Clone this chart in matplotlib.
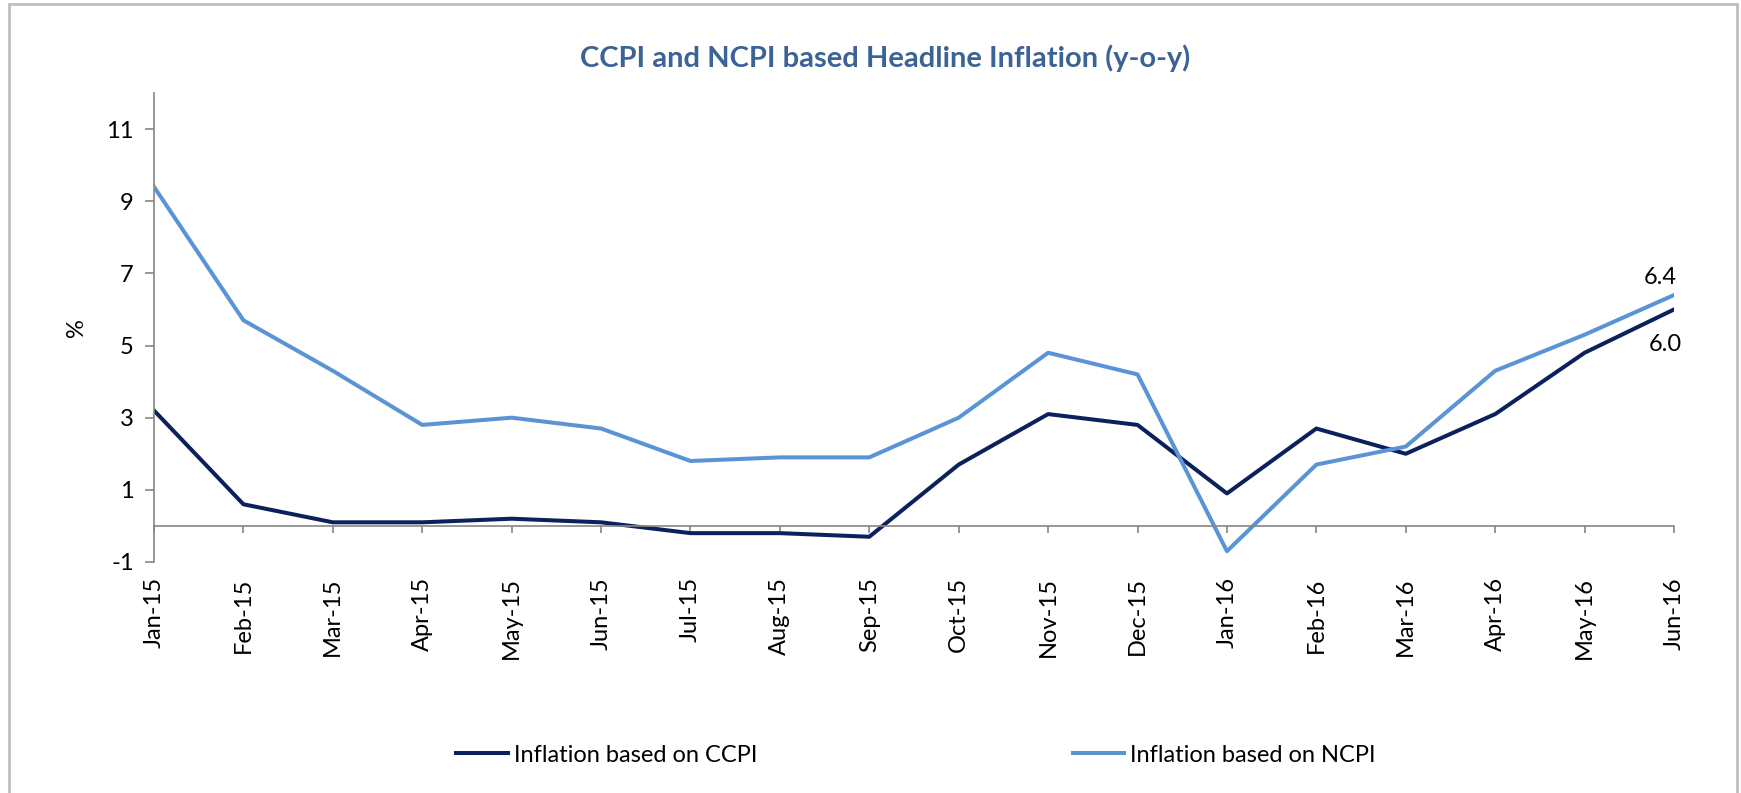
import matplotlib
matplotlib.use("Agg")
import matplotlib.pyplot as plt
from matplotlib.patches import Rectangle

months = ["Jan-15", "Feb-15", "Mar-15", "Apr-15", "May-15", "Jun-15", "Jul-15", "Aug-15",
          "Sep-15", "Oct-15", "Nov-15", "Dec-15", "Jan-16", "Feb-16", "Mar-16", "Apr-16",
          "May-16", "Jun-16"]
ccpi = [3.2, 0.6, 0.1, 0.1, 0.2, 0.1, -0.2, -0.2, -0.3, 1.7, 3.1, 2.8, 0.9, 2.7, 2.0, 3.1, 4.8, 6.0]
ncpi = [9.4, 5.7, 4.3, 2.8, 3.0, 2.7, 1.8, 1.9, 1.9, 3.0, 4.8, 4.2, -0.7, 1.7, 2.2, 4.3, 5.3, 6.4]
yticks = [-1, 1, 3, 5, 7, 9, 11]

plt.rcParams['font.family'] = ['Lato', 'DejaVu Sans']

W, H = 1741, 793
fig = plt.figure(figsize=(W / 100, H / 100), dpi=100)
ax = fig.add_axes([154 / W, 1 - 562 / H, (1674 - 154) / W, (562 - 93) / H])

gray = "#868686"
for s in ["top", "right"]:
    ax.spines[s].set_visible(False)
ax.spines["bottom"].set_position(("data", 0))
ax.spines["left"].set_color(gray)
ax.spines["left"].set_linewidth(1.2)
ax.spines["bottom"].set_color(gray)
ax.spines["bottom"].set_linewidth(1.2)

x = list(range(len(months)))
c_dark = "#0A215C"
c_light = "#5B93D7"
l1, = ax.plot(x, ccpi, color=c_dark, lw=2.9, solid_joinstyle='round', label="Inflation based on CCPI")
l2, = ax.plot(x, ncpi, color=c_light, lw=2.9, solid_joinstyle='round', label="Inflation based on NCPI")

ax.set_xlim(0, len(months) - 1)
ax.set_ylim(-1, 12)
ax.set_yticks(yticks)
ax.set_yticklabels([str(v) for v in yticks], fontsize=17)
ax.set_xticks(x)
ax.set_xticklabels(months, rotation=90, fontsize=17, ha="center", va="top")

ax.tick_params(axis="y", length=6.5, width=1.2, color=gray, pad=8)
ax.tick_params(axis="x", length=5, width=1.2, color=gray, pad=32, direction="out")

ax.set_ylabel("%", fontsize=17)
ax.yaxis.set_label_coords((87 - 154) / 1520, 0.5)

ax.annotate(f"{ncpi[-1]:.1f}", (x[-1], ncpi[-1]), xytext=(2, 5), textcoords="offset points",
            ha="right", va="bottom", fontsize=17)
ax.annotate(f"{ccpi[-1]:.1f}", (x[-1], ccpi[-1]), xytext=(6, -18), textcoords="offset points",
            ha="right", va="top", fontsize=17)

fig.text(885 / W, 1 - 58 / H, "CCPI and NCPI based Headline Inflation (y-o-y)",
         ha="center", va="center", fontsize=21, fontweight="bold", color="#3B6396")

leg = fig.legend(handles=[l1, l2], loc="center", bbox_to_anchor=(916 / W, 1 - 755 / H),
                 ncol=2, frameon=False, fontsize=17, handlelength=2.2, handletextpad=0.25,
                 columnspacing=13.35)

fig.patches.append(Rectangle((8.5 / W, -0.01), (1737 - 8.5) / W, 1 - 4 / H + 0.01,
                             transform=fig.transFigure, fill=False, edgecolor="#BEBEBE", lw=2))

fig.savefig("out.png", dpi=100)
